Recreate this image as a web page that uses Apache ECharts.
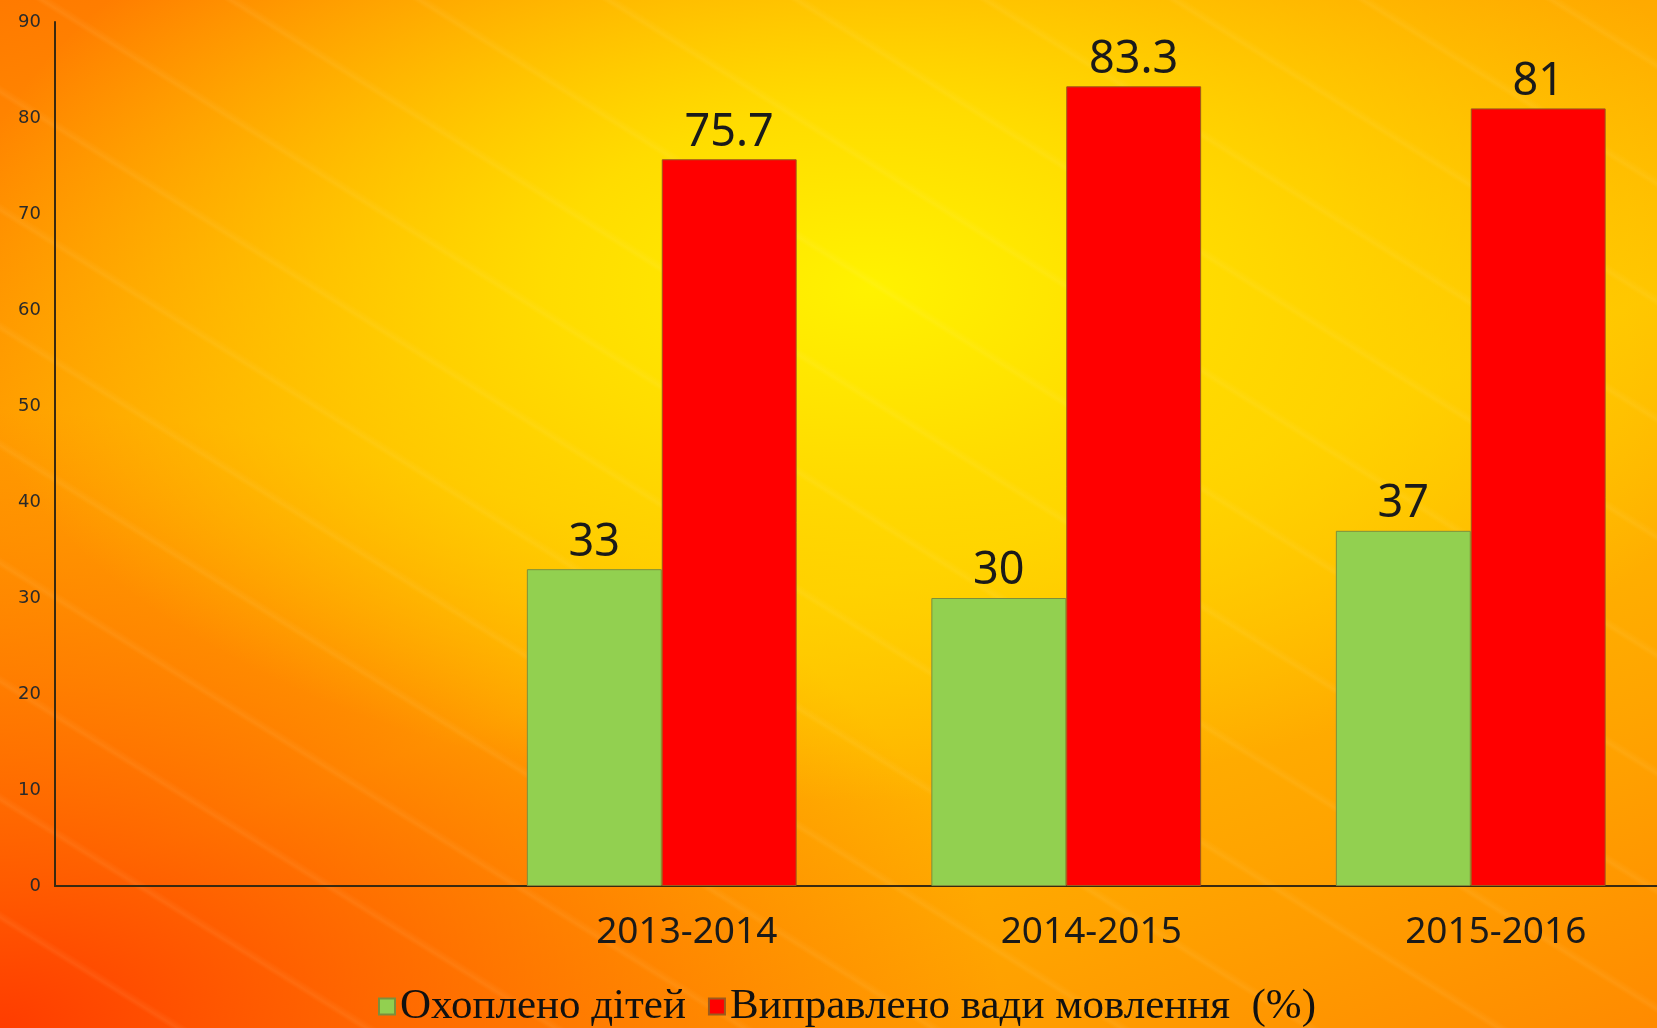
<!DOCTYPE html>
<html>
<head>
<meta charset="utf-8">
<script src="https://cdn.jsdelivr.net/npm/echarts@6/dist/echarts.min.js"></script>
<style>
  html, body { margin: 0; padding: 0; overflow: hidden; }
  /* chart is a bit wider than the window: the last category is cut at the right edge */
  #main {
    width: 1673px; height: 1028px;
    background:
      repeating-linear-gradient(32deg, rgba(255,255,255,0) 0px, rgba(255,255,255,0) 90px, rgba(255,240,180,0.08) 94px, rgba(255,255,255,0) 100px),
      radial-gradient(ellipse 55% 50% at 52% 28%, #fff200 0%, #ffdc00 35%, rgba(255,190,0,0) 100%),
      radial-gradient(ellipse 60% 60% at 0% 100%, #ff3c00 0%, rgba(255,80,0,0) 100%),
      linear-gradient(160deg, #ff7a00 0%, #ffa800 35%, #ffc000 55%, #ffa400 80%, #ff8a00 100%);
  }
</style>
</head>
<body>
<div id="main"></div>
<script>
// categories (first slot is empty in the original)
var years = ['', '2013-2014', '2014-2015', '2015-2016'];
var children = ['-', 33, 30, 37];
var corrected = ['-', 75.7, 83.3, 81];
var seriesNames = ['Охоплено дітей', 'Виправлено вади мовлення  (%)'];

var myChart = echarts.init(document.getElementById('main'));

var valueLabel = {
    show: true,
    position: 'top',
    distance: 4,
    color: '#1a1a1a',
    fontFamily: 'Noto Sans',
    fontSize: 45
};

myChart.setOption({
    backgroundColor: 'transparent',
    animation: false,
    grid: { left: 55, right: 0, top: 22, bottom: 142 },
    legend: {
        bottom: -5,
        left: 373,
        itemWidth: 16,
        itemHeight: 16,
        itemGap: 22,
        icon: 'rect',
        textStyle: { fontFamily: 'Liberation Serif', fontSize: 43, color: '#111' },
        data: seriesNames
    },
    xAxis: {
        type: 'category',
        data: years,
        axisLine: { lineStyle: { color: '#3a2a10', width: 2 } },
        axisTick: { show: false },
        axisLabel: { color: '#1a1a1a', fontFamily: 'Noto Sans', fontSize: 37, margin: 28, padding: [0, 0, 0, 50] }
    },
    yAxis: {
        type: 'value',
        min: 0,
        max: 90,
        interval: 10,
        splitLine: { show: false },
        axisLine: { show: true, lineStyle: { color: '#3a2a10', width: 2 } },
        axisTick: { show: false },
        axisLabel: { color: '#2a2a2a', fontFamily: 'DejaVu Sans', fontSize: 18, margin: 14 }
    },
    series: [
        {
            name: seriesNames[0],
            type: 'bar',
            data: children,
            barGap: '0%',
            barCategoryGap: '33.3%',
            itemStyle: { color: '#92d050', borderColor: '#7c8f3c', borderWidth: 1 },
            label: valueLabel
        },
        {
            name: seriesNames[1],
            type: 'bar',
            data: corrected,
            itemStyle: { color: '#ff0000', borderColor: '#9c5a1c', borderWidth: 1 },
            label: valueLabel
        }
    ]
});
</script>
</body>
</html>
